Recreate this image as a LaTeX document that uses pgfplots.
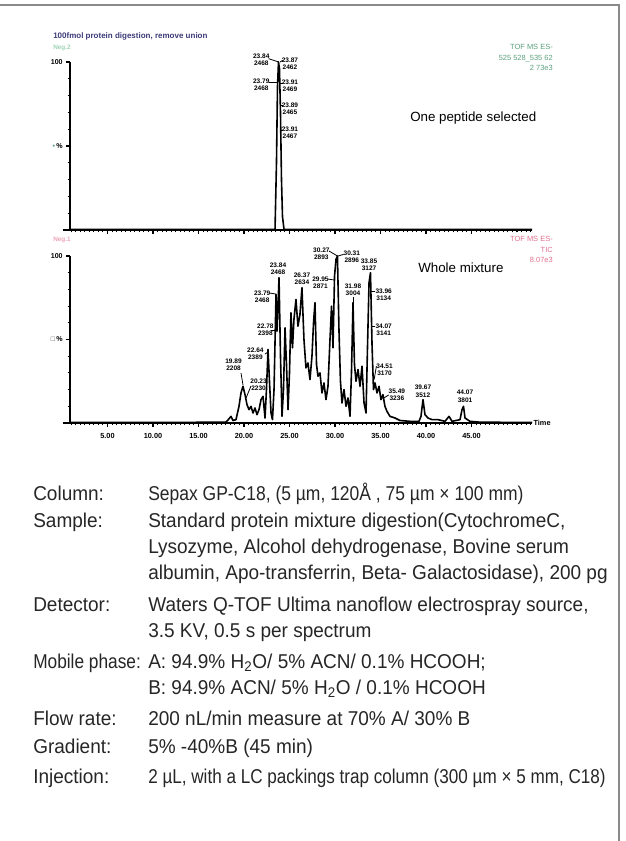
\documentclass[border=0pt]{standalone}
\usepackage{fontspec}
\usepackage{graphicx}
\setmainfont{Liberation Sans}
\newfontfamily\condfont{Liberation Sans}[FakeStretch=0.95]
\usepackage{pgfplots}
\pgfplotsset{compat=1.18}
\definecolor{titleblue}{HTML}{3C3A78}
\definecolor{tofgreen}{HTML}{5AA07F}
\definecolor{lightgreen}{HTML}{9FD4B8}
\definecolor{tofpink}{HTML}{E0708F}
\definecolor{lightpink}{HTML}{EBA5B8}
\definecolor{framegray}{HTML}{8A8A8A}
\pgfplotsset{
  chrom/.style={
    anchor=south west, scale only axis, width=346.5pt,
    xmin=0.88, xmax=51.65, ymin=0, ymax=100,
    axis x line=bottom, axis y line=left,
    axis line style={line width=1.5pt,-},
    clip=false,
    xtick={5,10,...,45},
    minor xtick={1,1.5,...,51.5},
    ytick={0,50,100},
    minor ytick={10,20,30,40,60,70,80,90},
    tick align=outside,
    major tick length=3pt, minor tick length=1.8pt,
    tick style={line width=0.8pt,black},
    xticklabel style={font=\bfseries\fontsize{5.5}{6}\selectfont, yshift=-1pt},
    yticklabel style={font=\bfseries\fontsize{5.3}{6}\selectfont, xshift=1pt},
  },
}
\tikzset{
  lbl/.style={font=\bfseries\fontsize{4.9}{5.3}\selectfont, align=center, inner sep=0pt},
  conn/.style={line width=0.6pt},
  trace/.style={black, line width=1.2pt, line join=round},
}
\begin{document}
\begin{tikzpicture}
\path[use as bounding box] (0,0) rectangle (468.75pt,-630.75pt);
% ---------------- top chromatogram ----------------
\begin{axis}[chrom, at={(52.5pt,-172.5pt)}, height=126pt,
  xticklabels={}, yticklabels={{},{\textcolor{tofgreen}{\textbullet}\,\%},100}]
\addplot[trace] coordinates {
(0.88,0.3) (23.41,0.3) (23.57,40) (23.68,85) (23.79,100) (23.90,96) (24.01,70) (24.12,30) (24.23,8) (24.40,0.3) (51.65,0.3)
};
\draw[line width=1.5pt] (axis cs:0.1,0) -- (axis cs:0.88,0);
\node[lbl] at (axis cs:21.90,101.2) {23.84\\2468};
\node[lbl] at (axis cs:25.05,98.8) {23.87\\2462};
\node[lbl] at (axis cs:21.90,86.3) {23.79\\2468};
\node[lbl] at (axis cs:25.05,85.7) {23.91\\2469};
\node[lbl] at (axis cs:25.05,72.0) {23.89\\2465};
\node[lbl] at (axis cs:25.05,57.7) {23.91\\2467};
\draw[conn] (axis cs:22.70,102) -- (axis cs:23.79,100);
\draw[conn] (axis cs:24.25,101) -- (axis cs:23.96,100);
\draw[conn] (axis cs:22.70,88) -- (axis cs:23.66,88);
\draw[conn] (axis cs:24.25,87.5) -- (axis cs:23.96,87.5);
\draw[conn] (axis cs:24.25,74.4) -- (axis cs:24.01,74.4);
\draw[conn] (axis cs:24.25,59.5) -- (axis cs:24.07,59.5);
\end{axis}
% ---------------- bottom chromatogram ----------------
\begin{axis}[chrom, at={(52.5pt,-317.25pt)}, height=125.25pt,
  xticklabels={5.00,10.00,15.00,20.00,25.00,30.00,35.00,40.00,45.00},
  yticklabels={{},{\textcolor{black!70}{□}\,\%},100}]
\addplot[trace] coordinates {
(0.88,0.3) (9.67,0.3) (18.02,0.5) (18.35,2.5) (18.57,4) (18.79,1.5) (19.12,2)
(19.45,10) (19.67,18) (19.89,22) (20.11,17) (20.33,11) (20.55,8) (20.77,10)
(20.99,6) (21.21,9) (21.43,5) (21.65,8) (21.87,14) (22.09,16) (22.31,3)
(22.47,20) (22.64,44) (22.80,25) (22.97,6) (23.13,2) (23.30,20) (23.52,77)
(23.63,55) (23.85,87) (24.01,40) (24.18,4) (24.34,20) (24.51,57) (24.67,35)
(24.84,8) (25.00,30) (25.16,66) (25.33,45) (25.49,62) (25.71,74) (25.93,58)
(26.15,65) (26.37,81) (26.59,50) (26.81,33) (27.03,36) (27.25,26) (27.47,40)
(27.64,60) (27.80,72) (27.97,35) (28.13,28) (28.35,30) (28.57,18) (28.79,24)
(29.01,14) (29.23,22) (29.45,50) (29.62,70) (29.78,45) (29.95,88) (30.11,98)
(30.27,100) (30.44,55) (30.60,25) (30.77,12) (30.99,20) (31.21,10) (31.43,15)
(31.65,4) (31.81,30) (31.98,72) (32.14,35) (32.31,25) (32.53,32) (32.75,22)
(32.97,34) (33.19,12) (33.41,6) (33.57,45) (33.74,84) (33.90,90) (34.07,47)
(34.23,20) (34.40,24) (34.62,18) (34.84,22) (35.05,14) (35.27,17) (35.49,10)
(35.71,7) (36.04,4) (36.59,3) (37.14,1.5) (38.24,1) (39.23,1) (39.45,4)
(39.67,14) (39.89,5) (40.22,3) (40.66,2) (41.32,2) (42.09,1) (42.53,4)
(42.86,1) (43.74,2) (43.96,8) (44.12,10) (44.29,3) (44.84,1) (45.93,0.5)
(51.65,0.3)
};
\draw[line width=1.5pt] (axis cs:0.1,0) -- (axis cs:0.88,0);
\node[anchor=west, font=\bfseries\fontsize{5.5}{6}\selectfont, inner sep=1pt] at (axis cs:51.65,0) {Time};
\node[lbl] at (axis cs:18.85,34.7) {19.89\\2208};
\node[lbl] at (axis cs:21.60,22.8) {20.23\\2230};
\node[lbl] at (axis cs:21.25,41.3) {22.64\\2389};
\node[lbl] at (axis cs:22.35,55.7) {22.78\\2398};
\node[lbl] at (axis cs:22.00,75.4) {23.79\\2468};
\node[lbl] at (axis cs:23.74,92.5) {23.84\\2468};
\node[lbl] at (axis cs:26.37,86.5) {26.37\\2634};
\node[lbl] at (axis cs:28.40,83.8) {29.95\\2871};
\node[lbl] at (axis cs:28.50,101.2) {30.27\\2893};
\node[lbl] at (axis cs:31.85,99.4) {30.31\\2896};
\node[lbl] at (axis cs:31.98,80.0) {31.98\\3004};
\node[lbl] at (axis cs:33.74,95.0) {33.85\\3127};
\node[lbl] at (axis cs:35.35,76.6) {33.96\\3134};
\node[lbl] at (axis cs:35.35,55.7) {34.07\\3141};
\node[lbl] at (axis cs:35.45,31.7) {34.51\\3170};
\node[lbl] at (axis cs:36.80,16.8) {35.49\\3236};
\node[lbl] at (axis cs:39.67,19.0) {39.67\\3512};
\node[lbl] at (axis cs:44.29,16.0) {44.07\\3801};
\draw[conn] (axis cs:19.67,30.0) -- (axis cs:19.89,22.8);
\draw[conn] (axis cs:20.77,22.2) -- (axis cs:20.23,15);
\draw[conn] (axis cs:22.31,41.3) -- (axis cs:22.64,42.5);
\draw[conn] (axis cs:22.97,55.7) -- (axis cs:23.52,55.7);
\draw[conn] (axis cs:22.86,77.8) -- (axis cs:23.52,77.2);
\draw[conn] (axis cs:29.23,86.2) -- (axis cs:29.95,85.6);
\draw[conn] (axis cs:29.34,103) -- (axis cs:30.27,100);
\draw[conn] (axis cs:30.95,101) -- (axis cs:30.35,100);
\draw[conn] (axis cs:31.98,75.4) -- (axis cs:31.98,72);
\draw[conn] (axis cs:34.45,79) -- (axis cs:33.90,79);
\draw[conn] (axis cs:34.45,58) -- (axis cs:34.07,58);
\draw[conn] (axis cs:34.55,34) -- (axis cs:34.30,26);
\draw[conn] (axis cs:35.90,16.8) -- (axis cs:35.38,15);
\end{axis}
% ---------------- texts in pixel units ----------------
\begin{scope}[x=0.75pt,y=-0.75pt]
\draw[framegray, line width=1.4pt] (0,5) -- (619,5) -- (619,841);
\node[anchor=west, inner sep=0pt, text=titleblue, font=\bfseries\fontsize{6}{7}\selectfont] at (53,36) {100fmol protein digestion, remove union};
\node[anchor=west, inner sep=0pt, text=lightgreen, font=\bfseries\fontsize{4.8}{5}\selectfont] at (53,48) {Neg.2};
\node[anchor=north east, inner sep=0pt, text=tofgreen, align=right, font=\fontsize{5.6}{8}\selectfont] at (553,44) {TOF MS ES-\\525 528\_535 62\\2 73e3};
\node[anchor=west, inner sep=0pt, font=\fontsize{10}{12}\selectfont] at (410,118) {One peptide selected};
\node[anchor=west, inner sep=0pt, text=lightpink, font=\bfseries\fontsize{4.8}{5}\selectfont] at (53,240) {Neg.1};
\node[anchor=north east, inner sep=0pt, text=tofpink, align=right, font=\fontsize{5.6}{8}\selectfont] at (553,236) {TOF MS ES-\\TIC\\8.07e3};
\node[anchor=west, inner sep=0pt, font=\fontsize{10}{12}\selectfont] at (418,268) {Whole mixture};
% spec table
\begin{scope}[every node/.style={anchor=base west, inner sep=0pt, font=\condfont\fontsize{15}{18}\selectfont, text=black!85}]
\node at (33,500) {Column:};
\node at (148,500) {\scalebox{0.92}[1]{Sepax GP-C18, (5 µm, 120Å , 75 µm × 100 mm)}};
\node at (33,527) {Sample:};
\node at (148,527) {Standard protein mixture digestion(CytochromeC,};
\node at (148,553) {Lysozyme, Alcohol dehydrogenase, Bovine serum};
\node at (148,579) {albumin, Apo-transferrin, Beta- Galactosidase), 200 pg};
\node at (33,611) {Detector:};
\node at (148,611) {Waters Q-TOF Ultima nanoflow electrospray source,};
\node at (148,637) {3.5 KV, 0.5 s per spectrum};
\node at (33,668) {\scalebox{0.91}[1]{Mobile phase:}};
\node at (148,668) {A: 94.9\% H\textsubscript{2}O/ 5\% ACN/ 0.1\% HCOOH;};
\node at (148,694) {B: 94.9\% ACN/ 5\% H\textsubscript{2}O / 0.1\% HCOOH};
\node at (33,725) {Flow rate:};
\node at (148,725) {200 nL/min measure at 70\% A/ 30\% B};
\node at (33,753) {Gradient:};
\node at (148,753) {5\% -40\%B (45 min)};
\node at (33,783) {Injection:};
\node at (148,783) {\scalebox{0.9}[1]{2 µL, with a LC packings trap column (300 µm × 5 mm, C18)}};
\end{scope}
\end{scope}
\end{tikzpicture}
\end{document}
